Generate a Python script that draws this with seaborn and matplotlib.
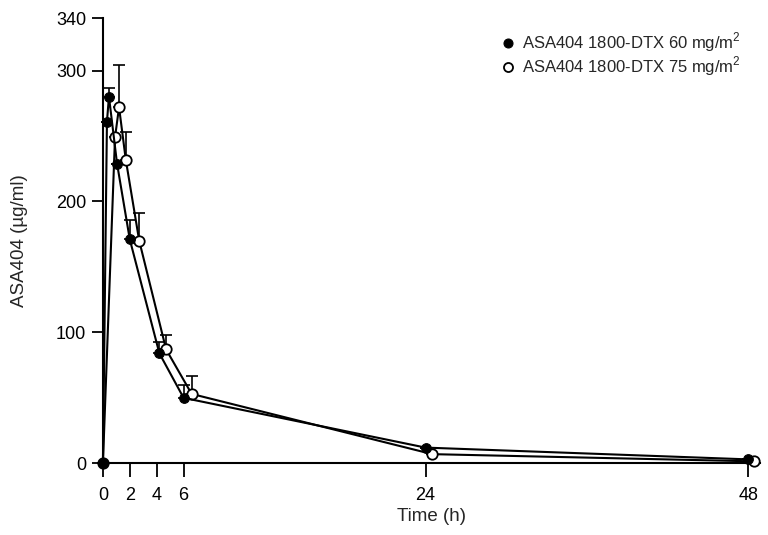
import numpy as np
import pandas as pd
import matplotlib
matplotlib.use('Agg')
import matplotlib.pyplot as plt
import seaborn as sns

# 60 mg/m2 (filled)
t60 = [0, 0.3, 0.45, 1.05, 2.0, 4.2, 6.0, 24.0, 48.0]
c60 = [0, 261, 280, 229, 171, 84, 50, 12, 3]
e60 = [0, 0, 7, 0, 15, 9, 10, 0, 0]

# 75 mg/m2 (open)
t75 = [0, 0.9, 1.2, 1.7, 2.7, 4.7, 6.6, 24.5, 48.4]
c75 = [0, 249, 272, 232, 170, 87, 53, 7, 1.5]
e75 = [0, 0, 32, 21, 21, 11, 14, 0, 0]

labels = ['ASA404 1800-DTX 60 mg/m$^2$', 'ASA404 1800-DTX 75 mg/m$^2$']

sns.set_style('ticks')
plt.rcParams['font.family'] = ['Liberation Sans', 'DejaVu Sans']
plt.rcParams['mathtext.fontset'] = 'custom'
plt.rcParams['mathtext.rm'] = 'Liberation Sans'

fig = plt.figure(figsize=(7.68, 5.35), dpi=100)
ax = fig.add_axes([0.134, 0.134, 0.856, 0.832])

df60 = pd.DataFrame({'t': t60, 'c': c60})
df75 = pd.DataFrame({'t': t75, 'c': c75})

ax.errorbar(t60, c60, yerr=[np.zeros(len(e60)), e60], fmt='none', ecolor='black',
            elinewidth=1.2, capsize=4, capthick=1.2, clip_on=False, zorder=2)
ax.errorbar(t75, c75, yerr=[np.zeros(len(e75)), e75], fmt='none', ecolor='black',
            elinewidth=1.2, capsize=4, capthick=1.2, clip_on=False, zorder=2)

sns.lineplot(data=df75, x='t', y='c', sort=False, ax=ax, color='black', lw=1.5,
             marker='o', markersize=7.5, markerfacecolor='white', markeredgecolor='black',
             markeredgewidth=1.3, label=labels[1], clip_on=False, zorder=3)
sns.lineplot(data=df60, x='t', y='c', sort=False, ax=ax, color='black', lw=1.5,
             marker='o', markersize=7, markerfacecolor='black', markeredgecolor='black',
             label=labels[0], clip_on=False, zorder=4)

ax.set_xlim(0, 48.9)
ax.set_ylim(0, 340)
ax.set_xticks([0, 2, 4, 6, 24, 48])
ax.set_yticks([0, 100, 200, 300, 340])
ax.tick_params(direction='out', width=1.3, labelsize=13, colors='black')
ax.tick_params(axis='x', length=10, pad=7)
ax.tick_params(axis='y', length=8, pad=4)
for s in ['top', 'right']:
    ax.spines[s].set_visible(False)
for s in ['left', 'bottom']:
    ax.spines[s].set_linewidth(1.5)
    ax.spines[s].set_color('black')

ax.set_xlabel('Time (h)', fontsize=13.5, labelpad=3)
ax.set_ylabel('ASA404 (µg/ml)', fontsize=13.5, labelpad=20)

h, l = ax.get_legend_handles_labels()
leg = ax.legend([h[1], h[0]], [l[1], l[0]], loc='upper right', frameon=False,
                fontsize=12, handlelength=0.6, handletextpad=0.5, labelspacing=0.05,
                bbox_to_anchor=(0.985, 0.995), borderaxespad=0.2)
for lh in leg.legend_handles:
    lh.set_linestyle('none')
    lh.set_markersize(6.5)

fig.savefig('out.png', dpi=100)
